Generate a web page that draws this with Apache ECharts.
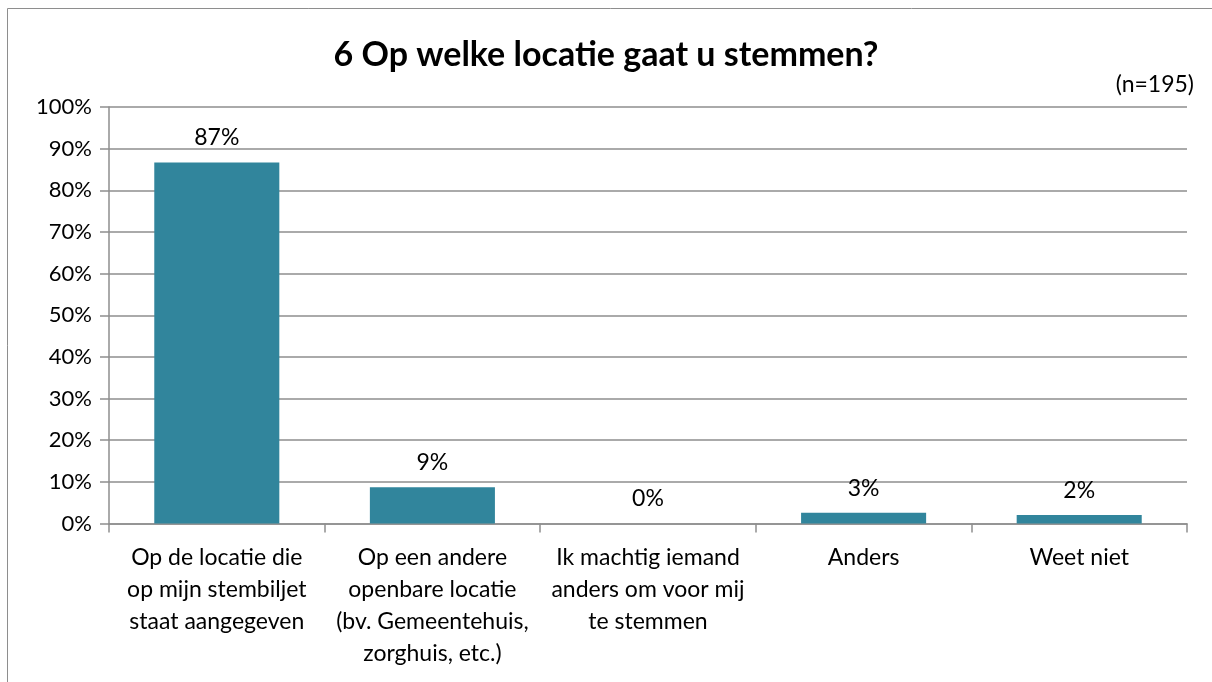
<!DOCTYPE html>
<html>
<head>
<meta charset="utf-8">
<script src="https://cdn.jsdelivr.net/npm/echarts@6/dist/echarts.min.js"></script>
<style>
html,body{margin:0;padding:0;background:#fff;}
#c{width:1212px;height:682px;}
</style>
</head>
<body>
<div id="c"></div>
<script>
const titleText = '6 Op welke locatie gaat u stemmen?';
const noteText = '(n=195)';
const categories = [
  'Op de locatie die\nop mijn stembiljet\nstaat aangegeven',
  'Op een andere\nopenbare locatie\n(bv. Gemeentehuis,\nzorghuis, etc.)',
  'Ik machtig iemand\nanders om voor mij\nte stemmen',
  'Anders',
  'Weet niet'
];
const values = [86.67, 8.72, 0, 2.56, 2.05];
const yTicks = { min: 0, max: 100, interval: 10 };

const FONT = 'Lato';
const chart = echarts.init(document.getElementById('c'));
chart.setOption({
  animation: false,
  backgroundColor: '#fff',
  graphic: [
    { type: 'rect', shape: { x: 7.5, y: 8.5, width: 1230, height: 700 },
      style: { fill: 'none', stroke: '#8e8e8e', lineWidth: 1 }, silent: true, z: -1 }
  ],
  title: [
    { text: titleText, left: 'center', top: 33,
      textStyle: { fontFamily: FONT, fontWeight: 'bold', fontSize: 34, color: '#000' } },
    { text: noteText, right: 13, top: 68,
      textStyle: { fontFamily: FONT, fontWeight: 'normal', fontSize: 23, color: '#000' } }
  ],
  grid: { left: 109, right: 25, top: 107, bottom: 158.5, containLabel: false },
  xAxis: {
    type: 'category',
    data: categories,
    axisLine: { lineStyle: { color: '#8e8e8e', width: 1.5 } },
    axisTick: { show: true, length: 9, lineStyle: { color: '#8e8e8e', width: 1.5 } },
    axisLabel: { interval: 0, margin: 18, fontFamily: FONT, fontSize: 23, color: '#000', lineHeight: 32, align: 'center' }
  },
  yAxis: {
    type: 'value',
    min: yTicks.min, max: yTicks.max, interval: yTicks.interval,
    axisLine: { show: true, lineStyle: { color: '#8e8e8e', width: 1.5 } },
    axisTick: { show: true, length: 9, lineStyle: { color: '#8e8e8e', width: 1.5 } },
    splitLine: { show: true, lineStyle: { color: '#8e8e8e', width: 1.5 } },
    axisLabel: { formatter: '{value}%', margin: 17, fontFamily: FONT, fontSize: 22, color: '#000' }
  },
  series: [{
    type: 'bar',
    data: values,
    barWidth: '58%',
    itemStyle: { color: '#31859C' },
    label: {
      show: true, position: 'top', distance: 13,
      fontFamily: FONT, fontSize: 23, color: '#000',
      formatter: p => Math.round(p.value) + '%'
    }
  }]
});
</script>
</body>
</html>
